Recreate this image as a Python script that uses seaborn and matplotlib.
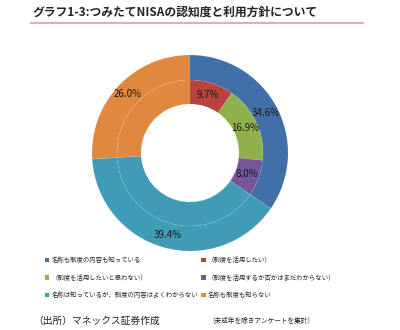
import matplotlib
matplotlib.use("Agg")
import matplotlib.pyplot as plt
import seaborn as sns
from matplotlib.patches import Patch
from matplotlib.lines import Line2D

sns.set_theme(style="white")
plt.rcParams['font.family'] = ['Noto Sans CJK JP', 'DejaVu Sans']

# Data
outer_labels = ["名称も制度の内容も知っている", "名称は知っているが、制度の内容はよくわからない", "名称も制度も知らない"]
outer_values = [34.6, 39.4, 26.0]
inner_labels = ["（制度を活用したい）", "（制度を活用したいと思わない）", "（制度を活用するか否かはまだわからない）",
                "名称は知っているが、制度の内容はよくわからない", "名称も制度も知らない"]
inner_values = [9.7, 16.9, 8.0, 39.4, 26.0]

c_blue, c_red, c_green, c_purple, c_teal, c_orange = (
    "#4170A8", "#B8433F", "#8FB14C", "#76559B", "#3F9BB6", "#E0883F")
outer_colors = [c_blue, c_teal, c_orange]
inner_colors = [c_red, c_green, c_purple, c_teal, c_orange]

W, H = 400, 330
fig = plt.figure(figsize=(W / 100, H / 100), dpi=100)
ax = fig.add_axes([0, 0, 1, 1])
cx, cy = 190, 153  # pixel centre (from top-left)
ax.set_aspect('equal')
ax.axis('off')

R_out, R_mid, R_in = 0.98, 0.73, 0.49

def outer_fmt(p):
    return f"{p:.1f}%"

inner_shown = set(range(3))
inner_pcts = iter(range(len(inner_values)))
def inner_fmt(p):
    i = next(inner_pcts)
    return f"{p:.1f}%" if i in inner_shown else ""

wedge_kw = dict(edgecolor=(1, 1, 1, 0.2), linewidth=0.25)
ax.pie(outer_values, radius=R_out, colors=outer_colors, startangle=90, counterclock=False,
       wedgeprops=dict(width=R_out - R_mid, **wedge_kw),
       autopct=outer_fmt, pctdistance=((R_out + R_mid) / 2) / R_out,
       textprops=dict(fontsize=7, color="#1a1a1a"), center=(0, 0), frame=False)
ax.pie(inner_values, radius=R_mid, colors=inner_colors, startangle=90, counterclock=False,
       wedgeprops=dict(width=R_mid - R_in, **wedge_kw),
       autopct=inner_fmt, pctdistance=((R_mid + R_in) / 2) / R_mid,
       textprops=dict(fontsize=7, color="#1a1a1a"), center=(0, 0), frame=False)
ax.set_xlim(-cx / 100, (W - cx) / 100)
ax.set_ylim(-(H - cy) / 100, cy / 100)

# Title
fig.text(33 / W, 1 - 12 / H, "グラフ1-3:つみたてNISAの認知度と利用方針について",
         fontsize=8.5, fontweight="bold", color="#222222", va="center", ha="left")
fig.add_artist(Line2D([31 / W, 363 / W], [1 - 23 / H, 1 - 23 / H], color="#E9A6CB", linewidth=1.6))

# Legend
leg_order = [(c_blue, outer_labels[0]), (c_green, inner_labels[1]), (c_teal, outer_labels[1]),
             (c_red, inner_labels[0]), (c_purple, inner_labels[2]), (c_orange, outer_labels[2])]
handles = [Patch(facecolor=c, edgecolor='none', label=l) for c, l in leg_order]
fig.legend(handles=handles, ncol=2, loc="upper left", bbox_to_anchor=(45 / W, 1 - 256 / H),
           frameon=False, fontsize=4.6, handlelength=0.7, handleheight=0.7, handletextpad=0.35,
           columnspacing=0.45, labelspacing=1.5, borderpad=0, borderaxespad=0)

# Footer
fig.text(33 / W, 1 - 321 / H, "（出所）マネックス証券作成", fontsize=7, color="#222222",
         va="center", ha="left")
fig.text(208 / W, 1 - 321 / H, "（未成年を除きアンケートを集計）", fontsize=4.8, color="#222222",
         va="center", ha="left")

fig.savefig("out.png", dpi=100, facecolor="white")
